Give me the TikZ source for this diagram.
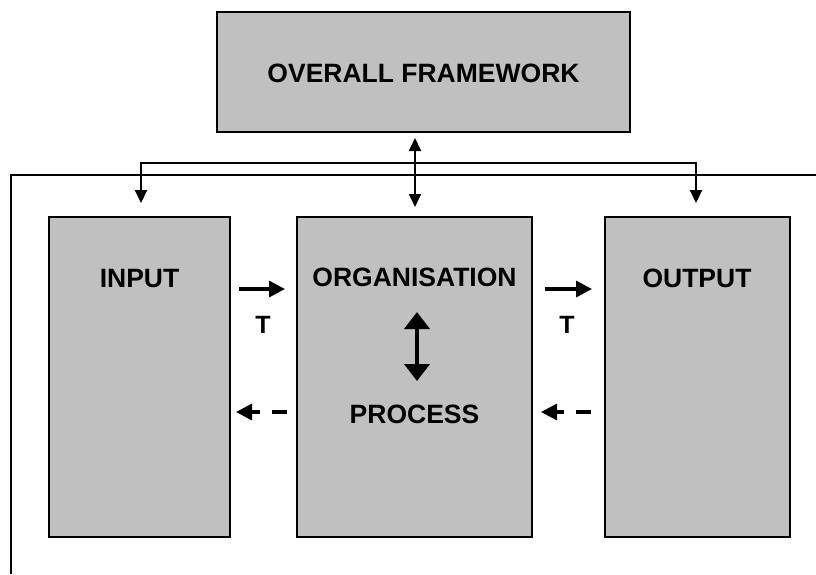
\documentclass[tikz,border=0pt]{standalone}
\usepackage{fontspec}
\setmainfont{Liberation Sans}
\usetikzlibrary{arrows.meta}
\definecolor{boxgray}{RGB}{192,192,192}
\begin{document}
\begin{tikzpicture}[x=1pt,y=-1pt,
  box/.style={draw=black, line width=2.8pt, fill=boxgray, inner sep=0pt, outer sep=0pt},
  lbl/.style={font=\fontsize{26.5}{30}\selectfont\bfseries, anchor=base, inner sep=0pt},
  tlbl/.style={font=\fontsize{25}{28}\selectfont\bfseries, anchor=base, inner sep=0pt},
  smalltip/.tip={Triangle[length=13pt,width=12pt]},
  midtip/.tip={Triangle[length=16pt,width=16pt]},
  bigtip/.tip={Triangle[length=17pt,width=25pt]},
  thinlink/.style={line width=2pt},
  flow/.style={line width=3.3pt, -midtip},
  backflow/.style={line width=3.3pt, dash pattern=on 15pt off 12pt, -midtip}
]
\useasboundingbox (0,0) rectangle (816,574);

% boxes
\node[box, minimum width=413pt, minimum height=120pt] (top) at (423.5,72) {};
\node[box, minimum width=181pt, minimum height=320pt] (input) at (139.5,377) {};
\node[box, minimum width=235pt, minimum height=320pt] (org) at (414.5,377) {};
\node[box, minimum width=185pt, minimum height=320pt] (output) at (697.5,377) {};

% labels
\node[lbl] (tfw) at (423.5,82) {OVERALL FRAMEWORK};
\node[lbl] (tin) at (139.5,287) {INPUT};
\node[lbl] (torg) at (414.5,286) {ORGANISATION};
\node[lbl] (tout) at (697,287) {OUTPUT};
\node[lbl] (tproc) at (414.5,423) {PROCESS};
\node[tlbl] (t1) at (263,333) {T};
\node[tlbl] (t2) at (567,333) {T};

% enclosing frame line
\coordinate (fa) at (11,574);
\coordinate (fb) at (11,175);
\coordinate (fc) at (816,175);
\draw[line width=2.4pt] (fa) -- (fb) -- (fc);

% distribution bracket from the framework
\coordinate (bl) at (141,163);
\coordinate (br) at (696,163);
\coordinate (mx) at (415,0);
\draw[thinlink, smalltip-smalltip, shorten <=14pt, shorten >=14pt]
  (input.north -| bl) -- (bl) -- (br) -- (output.north -| br);
\draw[thinlink, smalltip-smalltip, shorten <=6pt, shorten >=10pt]
  (top.south -| mx) -- (org.north -| mx);

% organisation <-> process
\coordinate (pa) at (417,312);
\coordinate (pb) at (417,381);
\draw[line width=4pt, bigtip-bigtip] (pa) -- (pb);

% transfers between boxes
\coordinate (r1s) at (239,289);
\coordinate (r1e) at (285,289);
\coordinate (r2s) at (545,289);
\coordinate (r2e) at (592,289);
\draw[flow] (r1s) -- (r1e);
\draw[flow] (r2s) -- (r2e);

% feedback
\coordinate (d1s) at (287,412);
\coordinate (d1e) at (236,412);
\coordinate (d2s) at (591,412);
\coordinate (d2e) at (541,412);
\draw[backflow] (d1s) -- (d1e);
\draw[backflow] (d2s) -- (d2e);
\end{tikzpicture}
\end{document}
